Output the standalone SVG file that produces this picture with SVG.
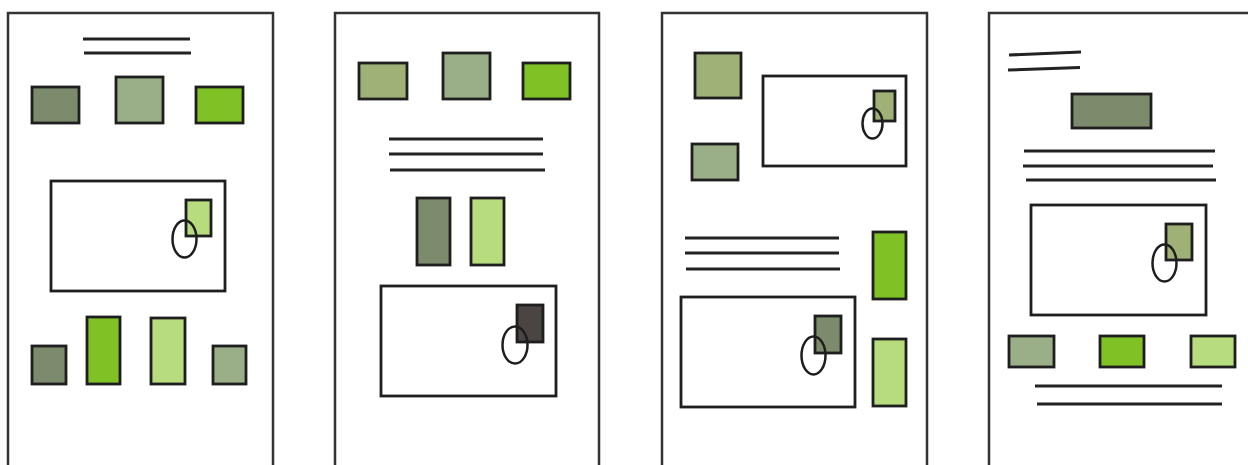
<svg xmlns="http://www.w3.org/2000/svg" width="1248" height="465" viewBox="0 0 1248 465">
<style>
.page{fill:#ffffff;stroke:#333333;stroke-width:2.5}
.box{stroke:#1e1e1e;stroke-width:2.8}
.frame{fill:#ffffff;stroke:#1e1e1e;stroke-width:2.8}
.ln{stroke:#222222;stroke-width:3;stroke-linecap:butt;fill:none}
.ov{fill:none;stroke:#1e1e1e;stroke-width:2.5}
.c1{fill:#7b8b6b}
.c2{fill:#9aaf88}
.c3{fill:#80c126}
.c4{fill:#b6dc7e}
.c5{fill:#9fb176}
.c6{fill:#4a4443}
</style>
<rect width="1248" height="465" fill="#ffffff"/>

<g id="panel1">
<rect class="page" x="8" y="13" width="265" height="455"/>
<line class="ln" x1="83" y1="39" x2="190" y2="39"/>
<line class="ln" x1="84" y1="53" x2="191" y2="53"/>
<rect class="box c1" x="32" y="87" width="47" height="36"/>
<rect class="box c2" x="116" y="77" width="47" height="46"/>
<rect class="box c3" x="196" y="87" width="47" height="36"/>
<rect class="frame" x="51" y="181" width="174" height="110"/>
<rect class="box c4" x="186" y="200" width="25" height="36"/>
<ellipse class="ov" cx="184.5" cy="239" rx="12" ry="18.5"/>
<rect class="box c1" x="32" y="346" width="34" height="38"/>
<rect class="box c3" x="87" y="317" width="33" height="67"/>
<rect class="box c4" x="151" y="318" width="34" height="66"/>
<rect class="box c2" x="213" y="346" width="33" height="38"/>
</g>

<g id="panel2">
<rect class="page" x="335" y="13" width="264" height="455"/>
<rect class="box c5" x="359" y="63" width="48" height="36"/>
<rect class="box c2" x="443" y="53" width="47" height="46"/>
<rect class="box c3" x="523" y="63" width="47" height="36"/>
<line class="ln" x1="389" y1="139" x2="543" y2="139"/>
<line class="ln" x1="389" y1="154" x2="543" y2="154"/>
<line class="ln" x1="390" y1="170" x2="545" y2="170"/>
<rect class="box c1" x="417" y="198" width="33" height="67"/>
<rect class="box c4" x="471" y="198" width="33" height="67"/>
<rect class="frame" x="381" y="286" width="175" height="110"/>
<rect class="box c6" x="517" y="305" width="26" height="37"/>
<ellipse class="ov" cx="515" cy="345" rx="12.5" ry="18.5"/>
</g>

<g id="panel3">
<rect class="page" x="662" y="13" width="265" height="455"/>
<rect class="box c5" x="695" y="53" width="46" height="45"/>
<rect class="box c2" x="692" y="144" width="46" height="36"/>
<rect class="frame" x="763" y="76" width="143" height="90"/>
<rect class="box c5" x="874" y="91" width="21" height="30"/>
<ellipse class="ov" cx="872.5" cy="123.5" rx="10" ry="15"/>
<line class="ln" x1="685" y1="238" x2="839" y2="238"/>
<line class="ln" x1="685" y1="253" x2="839" y2="253"/>
<line class="ln" x1="686" y1="269" x2="840" y2="269"/>
<rect class="box c3" x="873" y="232" width="33" height="67"/>
<rect class="box c4" x="873" y="339" width="33" height="67"/>
<rect class="frame" x="681" y="297" width="174" height="110"/>
<rect class="box c1" x="815" y="316" width="26" height="37"/>
<ellipse class="ov" cx="813.5" cy="355.5" rx="12" ry="19"/>
</g>

<g id="panel4">
<rect class="page" x="989" y="13" width="270" height="455"/>
<line class="ln" x1="1009" y1="55" x2="1081" y2="52"/>
<line class="ln" x1="1008" y1="70" x2="1080" y2="67.5"/>
<rect class="box c1" x="1072" y="94" width="79" height="34"/>
<line class="ln" x1="1024" y1="151" x2="1215" y2="151"/>
<line class="ln" x1="1023" y1="166" x2="1213" y2="166"/>
<line class="ln" x1="1026" y1="180" x2="1216" y2="180"/>
<rect class="frame" x="1031" y="205" width="175" height="110"/>
<rect class="box c5" x="1166" y="224" width="26" height="36"/>
<ellipse class="ov" cx="1164.5" cy="263" rx="12" ry="18.5"/>
<rect class="box c2" x="1009" y="336" width="45" height="31"/>
<rect class="box c3" x="1100" y="336" width="44" height="31"/>
<rect class="box c4" x="1191" y="336" width="44" height="31"/>
<line class="ln" x1="1035" y1="386" x2="1222" y2="386"/>
<line class="ln" x1="1037" y1="404" x2="1222" y2="404"/>
</g>
</svg>
